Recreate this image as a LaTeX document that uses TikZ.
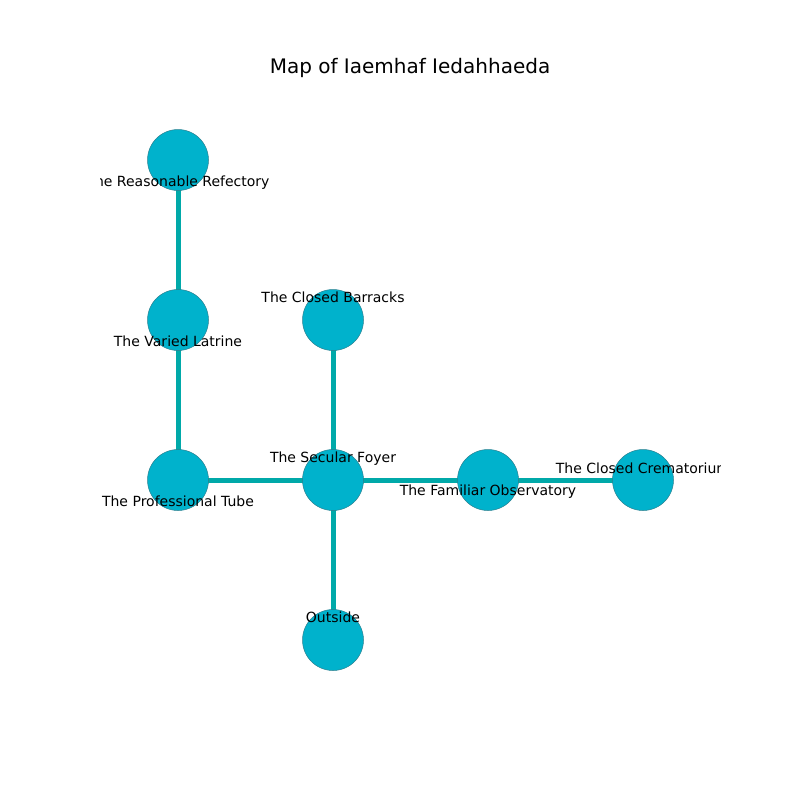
\documentclass[tikz, border = 0pt]{standalone}
\usepackage{fontspec}
\setmainfont{DejaVu Sans}
\definecolor{roomfill}{HTML}{00B2CC}
\definecolor{roomedge}{HTML}{2A7F8E}
\definecolor{passage}{HTML}{00A9A9}
\tikzset {
    room/.style = {circle, fill = roomfill, draw = roomedge, line width = 0.5pt, minimum size = 61pt, inner sep = 0pt},
    passage/.style = {draw = passage, line width = 5pt},
    tag/.style = {inner sep = 0pt, text height = 10.2pt, text depth = 3.3pt, yshift = -2pt, font = \fontsize{14}{16}\selectfont},
    heading/.style = {inner sep = 0pt, font = \fontsize{20}{24}\selectfont}
}
\begin{document}
\begin{tikzpicture}[x = 1pt, y = -1pt]
            \useasboundingbox (0, 0) rectangle (800, 800);
            \node (title) [heading] at (410, 68) {Map of Iaemhaf Iedahhaeda};
            % rooms
            \coordinate (refectory) at (178, 160);
            \coordinate (latrine) at (178, 320);
            \coordinate (barracks) at (333, 320);
            \coordinate (tube) at (178, 480);
            \coordinate (foyer) at (333, 480);
            \coordinate (observatory) at (488, 480);
            \coordinate (crematorium) at (643, 480);
            \coordinate (outside) at (333, 640);
            % passages
            \draw [passage] (refectory) -- (latrine);
            \draw [passage] (latrine) -- (tube);
            \draw [passage] (tube) -- (foyer);
            \draw [passage] (barracks) -- (foyer);
            \draw [passage] (foyer) -- (observatory);
            \draw [passage] (observatory) -- (crematorium);
            \draw [passage] (foyer) -- (outside);
            \foreach \r in {refectory, latrine, barracks, tube, foyer, observatory, crematorium, outside}
                \node (\r-dot) [room] at (\r) {};
            \begin{scope}
                \clip (100, 96) rectangle (720, 712);
                \node (refectory-tag) [tag] at (178, 181) {The Reasonable Refectory};
                \node (latrine-tag) [tag] at (178, 341) {The Varied Latrine};
                \node (barracks-tag) [tag] at (333, 297) {The Closed Barracks};
                \node (tube-tag) [tag] at (178, 501) {The Professional Tube};
                \node (foyer-tag) [tag] at (333, 457) {The Secular Foyer};
                \node (observatory-tag) [tag] at (488, 490) {The Familiar Observatory};
                \node (crematorium-tag) [tag] at (643, 468) {The Closed Crematorium};
                \node (outside-tag) [tag] at (333, 617) {Outside};
            \end{scope}
        \end{tikzpicture}
\end{document}
